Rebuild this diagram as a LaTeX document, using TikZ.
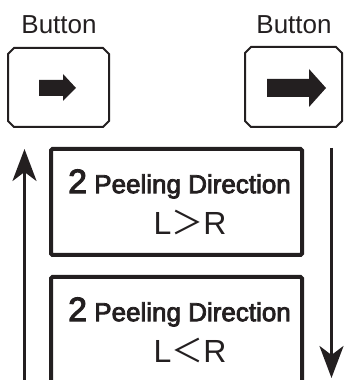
\documentclass[tikz,border=0pt]{standalone}
\usepackage{fontspec}
\setmainfont{Liberation Sans}
\newfontfamily\heavy[FakeBold=3]{Liberation Sans}
\newfontfamily\cjk{Noto Sans CJK SC}
\usetikzlibrary{arrows.meta, positioning}
\definecolor{inkBlack}{RGB}{35, 31, 32}
\tikzset{
  button/.style={
    rectangle, minimum width=97pt, minimum height=80pt,
    inner sep=0pt, outer sep=0pt
  },
  btnframe/.style={
    draw=inkBlack, line width=2pt, line join=miter
  },
  btnlabel/.style={
    font=\fontsize{26}{26}\selectfont,
    text=inkBlack, inner sep=0pt
  },
  panel/.style={
    rectangle, rounded corners=1.5pt,
    draw=inkBlack, line width=4pt,
    minimum width=251pt, minimum height=106pt,
    align=center, inner sep=0pt, text=inkBlack,
    font=\heavy\fontsize{26}{41}\selectfont
  },
  dirarrow/.style={
    -{Stealth[length=32pt,width=24pt,inset=9pt]},
    line width=3pt, color=inkBlack
  },
  icon/.style={fill=inkBlack}
}

\begin{document}
\begin{tikzpicture}[x=1pt, y=1pt]
\clip (0,0) rectangle (344,380);

% --- Buttons ---
\node[button, minimum width=101pt, minimum height=79pt] (btnL) at (58.5,292.5) {};
\node[button] (btnR) at (293.5,293) {};
\node[btnlabel, anchor=base] at (59,346) {Button};
\node[btnlabel, anchor=base] at (294,346) {Button};

% chamfered frames
\foreach \b in {btnL, btnR}
  \draw[btnframe] ([xshift=6pt]\b.north west) -- ([xshift=-6pt]\b.north east)
    -- ([yshift=-6pt]\b.north east) -- ([yshift=6pt]\b.south east)
    -- ([xshift=-6pt]\b.south east) -- ([xshift=6pt]\b.south west)
    -- ([yshift=6pt]\b.south west) -- ([yshift=-6pt]\b.north west) -- cycle;

% button icons
\fill[icon] (39,284) -- (63,284) -- (63,279) -- (76,292) -- (63,306) -- (63,300) -- (39,300) -- cycle;
\fill[icon] (267,283) -- (309,283) -- (309,273) -- (326,292) -- (309,311) -- (309,301) -- (267,301) -- cycle;

% --- Direction panels ---
\node[panel] (dirA) at (176.5,178) {\hspace*{6pt}{\fontsize{34}{34}\selectfont 2} Peeling Direction\\\hspace*{27pt}{\rmfamily\fontsize{32}{32}\selectfont L{\cjk ＞}R}};
\node[panel, below=18pt of dirA] (dirB) {\hspace*{6pt}{\fontsize{34}{34}\selectfont 2} Peeling Direction\\\hspace*{27pt}{\rmfamily\fontsize{32}{32}\selectfont L{\cjk ＜}R}};

% --- Cycle arrows ---
\coordinate (upFrom) at (24.5,-5);
\coordinate (upTo) at (24.5,231);
\coordinate (downFrom) at (331.5,232);
\coordinate (downTo) at (331.5,2);
\draw[dirarrow] (upFrom) -- (upTo);
\draw[dirarrow] (downFrom) -- (downTo);

\end{tikzpicture}
\end{document}
